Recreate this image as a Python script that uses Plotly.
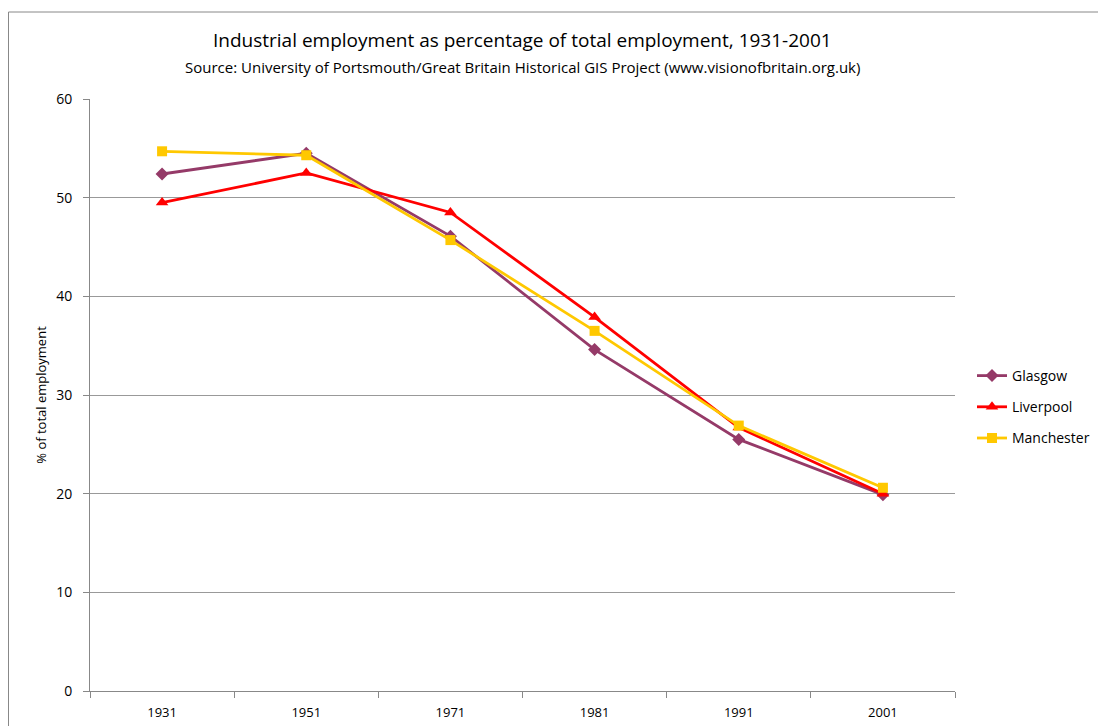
import plotly.graph_objects as go

years = ["1931", "1951", "1971", "1981", "1991", "2001"]
glasgow = [52.4, 54.5, 46.1, 34.6, 25.5, 19.9]
liverpool = [49.5, 52.5, 48.5, 37.9, 26.7, 20.0]
manchester = [54.7, 54.3, 45.7, 36.5, 26.9, 20.6]

series = [
    ("Glasgow", glasgow, "#953A68", "diamond", 10),
    ("Liverpool", liverpool, "#FF0000", "triangle-up", 11),
    ("Manchester", manchester, "#FFC800", "square", 10),
]

fig = go.Figure()
for name, vals, col, sym, sz in series:
    fig.add_trace(go.Scatter(
        x=years, y=vals, name=name, legendgroup=name, mode="lines+markers",
        line=dict(color=col, width=2.8),
        marker=dict(symbol=sym, size=sz, color=col),
    ))

# page body adds an 8px offset; figure sized to fit the remaining window
W, H = 1098, 718
L, R, T, B = 82, 151, 91, 35
pw, ph = W - L - R, H - T - B

font = "Open Sans, Liberation Sans, sans-serif"
fig.update_layout(
    width=W, height=H,
    margin=dict(l=L, r=R, t=T, b=B, autoexpand=False),
    paper_bgcolor="white", plot_bgcolor="white",
    font=dict(family=font, size=13, color="black"),
    showlegend=True,
    legend=dict(x=1.0 + 17 / pw, y=0.5 - 12 / ph, xanchor="left", yanchor="middle",
                font=dict(size=14), traceorder="grouped", tracegroupgap=10,
                itemwidth=30),
    xaxis=dict(type="category", range=[-0.5, len(years) - 0.5],
               showgrid=False, showline=True, linecolor="#888888",
               ticks="outside", ticklen=6, tickcolor="#888888", tickson="boundaries",
               ticklabelstandoff=9, tickfont=dict(size=13)),
    yaxis=dict(range=[0, 60], dtick=10, showgrid=True, gridcolor="#999999", gridwidth=1,
               showline=True, linecolor="#888888", ticks="outside", ticklen=6,
               tickcolor="#888888", zeroline=False, ticklabelstandoff=8,
               tickfont=dict(size=14),
               title=dict(text="% of total employment", font=dict(size=13), standoff=6)),
    annotations=[
        dict(text="Industrial employment as percentage of total employment, 1931-2001",
             xref="paper", yref="paper", x=0.5, y=1.0, yshift=59, showarrow=False,
             font=dict(size=19), xanchor="center", yanchor="middle"),
        dict(text="Source: University of Portsmouth/Great Britain Historical GIS Project (www.visionofbritain.org.uk)",
             xref="paper", yref="paper", x=0.5, y=1.0, yshift=32, showarrow=False,
             font=dict(size=15), xanchor="center", yanchor="middle"),
    ],
    shapes=[dict(type="rect", xref="paper", yref="paper",
                 x0=(0.5 - L) / pw, x1=1.0 + (R + 10) / pw,
                 y0=-(B + 10) / ph, y1=1.0 + (T - 4) / ph,
                 line=dict(color="#888888", width=1))],
)

fig.write_html("out.html")
